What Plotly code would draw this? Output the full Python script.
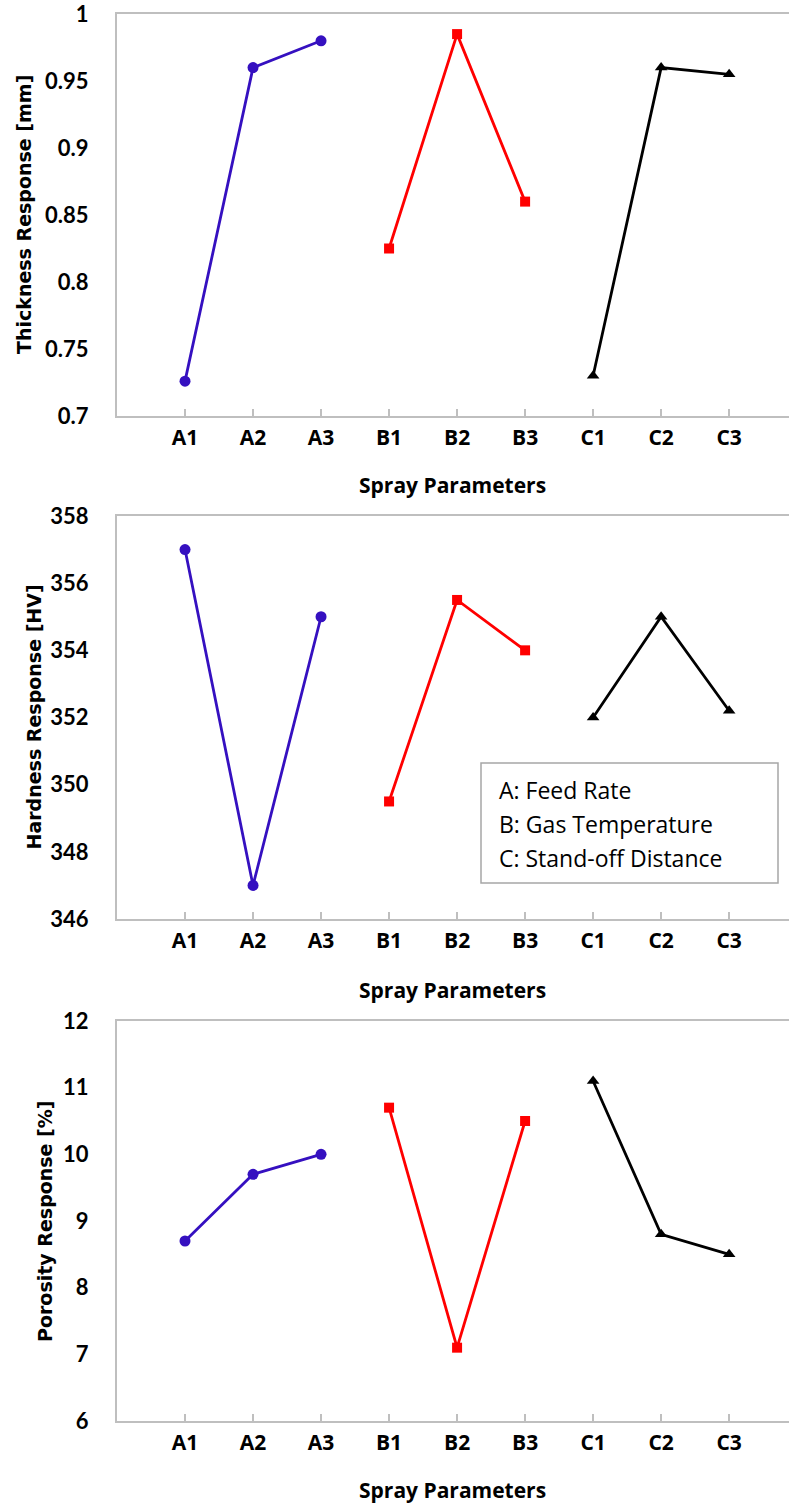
import plotly.graph_objects as go

# ---- data ----
params = ["A1", "A2", "A3", "B1", "B2", "B3", "C1", "C2", "C3"]
groups = ["A", "B", "C"]

thickness_A = [0.726, 0.960, 0.980]
thickness_B = [0.825, 0.985, 0.860]
thickness_C = [0.730, 0.960, 0.955]

hardness_A = [357.0, 347.0, 355.0]
hardness_B = [349.5, 355.5, 354.0]
hardness_C = [352.0, 355.0, 352.2]

porosity_A = [8.7, 9.7, 10.0]
porosity_B = [10.7, 7.1, 10.5]
porosity_C = [11.1, 8.8, 8.5]

panel_titles = ["Thickness Response [mm]", "Hardness Response [HV]", "Porosity Response [%]"]
y_ranges = [[0.7, 1.0], [346, 358], [6, 12]]
y_dticks = [0.05, 2, 1]
legend_lines = ["A: Feed Rate", "B: Gas Temperature", "C: Stand-off Distance"]

# ---- styling ----
W, H = 789, 1509
COLORS = {"A": "#3510C0", "B": "#FF0000", "C": "#000000"}
SYMBOLS = {"A": "circle", "B": "square", "C": "triangle-up"}
SIZES = {"A": 11, "B": 10, "C": 11}
GRID = "#BFBFBF"


def px(x):
    return x / W


def py(y):
    return 1 - y / H


# panel pixel boxes (top, bottom)
panels = [(14, 416), (516, 919), (1021, 1421)]
xtitle_y = [485, 990, 1490]
ytitle_x = [24, 33, 45]

fig = go.Figure()

data_sets = [
    {"A": thickness_A, "B": thickness_B, "C": thickness_C},
    {"A": hardness_A, "B": hardness_B, "C": hardness_C},
    {"A": porosity_A, "B": porosity_B, "C": porosity_C},
]

for i, ds in enumerate(data_sets):
    xa = "x" if i == 0 else f"x{i+1}"
    ya = "y" if i == 0 else f"y{i+1}"
    for gi, g in enumerate(groups):
        fig.add_trace(go.Scatter(
            x=params[gi * 3:(gi + 1) * 3], y=ds[g],
            xaxis=xa, yaxis=ya, mode="lines+markers",
            line=dict(color=COLORS[g], width=2.8),
            marker=dict(color=COLORS[g], symbol=SYMBOLS[g], size=SIZES[g]),
            showlegend=False, hoverinfo="skip", cliponaxis=False,
        ))

layout = dict(
    width=W, height=H,
    margin=dict(l=0, r=0, t=0, b=0, pad=0, autoexpand=False),
    paper_bgcolor="white", plot_bgcolor="white",
    showlegend=False,
)

for i, (top, bot) in enumerate(panels):
    xk = "xaxis" if i == 0 else f"xaxis{i+1}"
    yk = "yaxis" if i == 0 else f"yaxis{i+1}"
    ya = "y" if i == 0 else f"y{i+1}"
    xa = "x" if i == 0 else f"x{i+1}"
    layout[xk] = dict(
        domain=[px(117), 1.0], anchor=ya, automargin=False,
        type="category", categoryorder="array", categoryarray=params,
        range=[-1, 8.88],
        showline=True, linecolor=GRID, linewidth=2, mirror=True,
        showgrid=False, zeroline=False,
        ticks="inside", ticklen=7, tickcolor=GRID, tickwidth=1.5,
        tickfont=dict(family="Open Sans", size=21, color="#000000", weight="bold"),
        ticklabelstandoff=2, ticklabeloverflow="allow",
    )
    layout[yk] = dict(
        domain=[py(bot), py(top)], anchor=xa, automargin=False,
        range=y_ranges[i], dtick=y_dticks[i], tick0=y_ranges[i][0],
        showline=True, linecolor=GRID, linewidth=2, mirror=False,
        showgrid=False, zeroline=False, ticks="",
        tickfont=dict(family="Lato", size=22, color="#000000", weight="bold"),
        ticklabelstandoff=22, ticklabeloverflow="allow",
    )

fig.update_layout(**layout)

# axis titles
for i in range(3):
    fig.add_annotation(
        x=px(452), y=py(xtitle_y[i]), xref="paper", yref="paper",
        text="Spray Parameters", showarrow=False,
        font=dict(family="Open Sans", size=21, color="#000000", weight="bold"),
        xanchor="center", yanchor="middle",
    )
    top, bot = panels[i]
    fig.add_annotation(
        x=px(ytitle_x[i]), y=py((top + bot) / 2),
        xref="paper", yref="paper",
        text=panel_titles[i], showarrow=False, textangle=-90,
        font=dict(family="DejaVu Sans", size=19, color="#000000", weight="bold"),
        xanchor="center", yanchor="middle",
    )

# legend box in the hardness panel
fig.add_shape(type="rect", xref="paper", yref="paper",
              x0=px(481), x1=px(778), y0=py(883), y1=py(763),
              line=dict(color="#A6A6A6", width=1.5), fillcolor="white")
for j, t in enumerate(legend_lines):
    fig.add_annotation(
        x=px(497), y=py(790 + 34 * j), xref="paper", yref="paper",
        text=t, showarrow=False, xanchor="left", yanchor="middle",
        font=dict(family="Open Sans", size=23, color="#000000"),
    )

fig.write_html(
    "out.html",
    config={"displayModeBar": False, "staticPlot": True},
    post_script="document.body.style.margin='0';document.body.style.overflow='hidden';",
)
